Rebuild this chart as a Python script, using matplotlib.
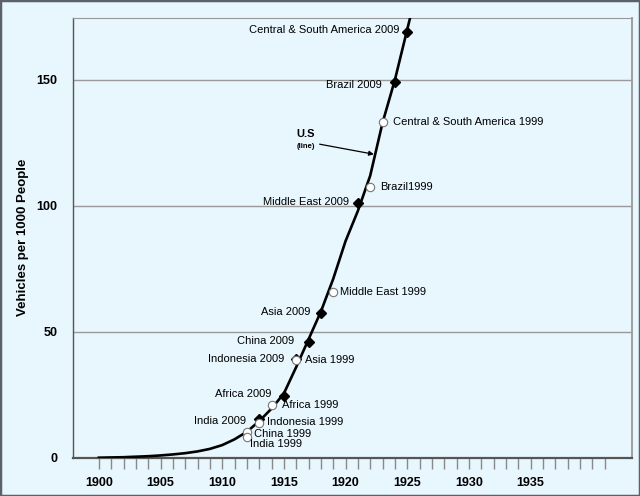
import numpy as np
import matplotlib
matplotlib.use('Agg')
import matplotlib.pyplot as plt
from matplotlib.patches import Rectangle

plt.rcParams['font.family'] = ['Liberation Sans', 'DejaVu Sans']

# US vehicles per 1000 people (the line)
us_years = list(range(1900, 1927))
us_vals = [0, 0.1, 0.2, 0.4, 0.6, 0.9, 1.3, 1.8, 2.5, 3.5, 5.0, 7.3, 10.3, 14.5,
           19.5, 25.5, 36, 47, 58, 71, 86, 98, 112, 133, 150, 170, 190]

# 2009 levels (filled diamonds), placed on the year the US had that level
labels_2009 = ['Central & South America 2009', 'Brazil 2009', 'Middle East 2009',
               'Asia 2009', 'China 2009', 'Indonesia 2009', 'Africa 2009', 'India 2009']
years_2009 = [1925, 1924, 1921, 1918, 1917, 1916, 1915, 1913]
vals_2009 = [169, 149, 101, 57.5, 46, 39, 24.7, 15.5]

# 1999 levels (open circles)
labels_1999 = ['Central & South America 1999', 'Brazil1999', 'Middle East 1999',
               'Asia 1999', 'Africa 1999', 'Indonesia 1999', 'China 1999', 'India 1999']
years_1999 = [1923, 1922, 1919, 1916, 1914, 1913, 1912, 1912]
vals_1999 = [133.2, 107.3, 65.9, 38.9, 20.8, 13.8, 10.3, 8.2]

# label offsets in pixels
off_2009 = [(-8, 2), (-13, -3), (-9, 1), (-10, 1), (-14, 1), (-12, 0), (-12, 2), (-13, -2)]
off_1999 = [(10, 0), (10, 0), (7, 0), (9, 0), (10, 0), (8, 1), (7, -2), (3, -7)]

bg = '#e8f6fd'
fig = plt.figure(figsize=(6.4, 4.96), dpi=100, facecolor=bg)
ax = fig.add_axes([0.114, 0.0772, 0.873, 0.8875])
ax.set_facecolor(bg)

ax.plot(us_years, us_vals, color='black', lw=1.9, zorder=3)
ax.plot(years_2009, vals_2009, 'D', color='black', ms=5, zorder=4)
ax.plot(years_1999, vals_1999, 'o', mfc='white', mec='#777777', mew=0.8, ms=6, zorder=5)

for lab, x, y, o in zip(labels_2009, years_2009, vals_2009, off_2009):
    ax.annotate(lab, (x, y), xytext=o, textcoords='offset pixels',
                ha='right', va='center', fontsize=8, zorder=6)
for lab, x, y, o in zip(labels_1999, years_1999, vals_1999, off_1999):
    ax.annotate(lab, (x, y), xytext=o, textcoords='offset pixels',
                ha='left', va='center', fontsize=8, zorder=6)

# U.S arrow label
ax.annotate('', xy=(1922.3, 120.5), xytext=(1917.9, 124.5),
            arrowprops=dict(arrowstyle='-|>', color='black', lw=0.9,
                            mutation_scale=7, shrinkA=0, shrinkB=0))
ax.text(1916.8, 128.5, 'U.S', ha='center', va='center', fontsize=8, fontweight='bold')
ax.text(1916.8, 123.5, '(line)', ha='center', va='center', fontsize=5.5, fontweight='bold')

ax.set_xlim(1897.9, 1943.2)
ax.set_ylim(0, 174.8)

ax.set_xticks(range(1900, 1942))
ax.set_xticklabels([str(y) if (y % 5 == 0 and y <= 1935) else '' for y in range(1900, 1942)],
                   fontweight='bold', fontsize=9)
ax.tick_params(axis='x', direction='out', length=8, width=1, color='#8a8a8a', pad=6)

ax.set_yticks([0, 50, 100, 150])
ax.set_yticklabels(['0', '50', '100', '150'], fontweight='bold', fontsize=9)
ax.tick_params(axis='y', length=0, pad=11)
for v in [50, 100, 150]:
    ax.axhline(v, color='#9a9a9a', lw=1, zorder=1)

ax.set_ylabel('Vehicles per 1000 People', fontweight='bold', fontsize=9.5)
ax.yaxis.set_label_coords(-0.079, 0.5)

ax.spines['bottom'].set_color('#555555')
ax.spines['bottom'].set_linewidth(1.6)
ax.spines['left'].set_color('#555555')
ax.spines['left'].set_linewidth(1)
ax.spines['top'].set_color('#999999')
ax.spines['right'].set_color('#999999')
ax.spines['right'].set_linewidth(1.3)

fig.patches.append(Rectangle((0, 0), 1, 1, transform=fig.transFigure, fill=False,
                             edgecolor='#5b6168', lw=2.5, zorder=10))

fig.savefig('out.png', dpi=100, facecolor=bg)
